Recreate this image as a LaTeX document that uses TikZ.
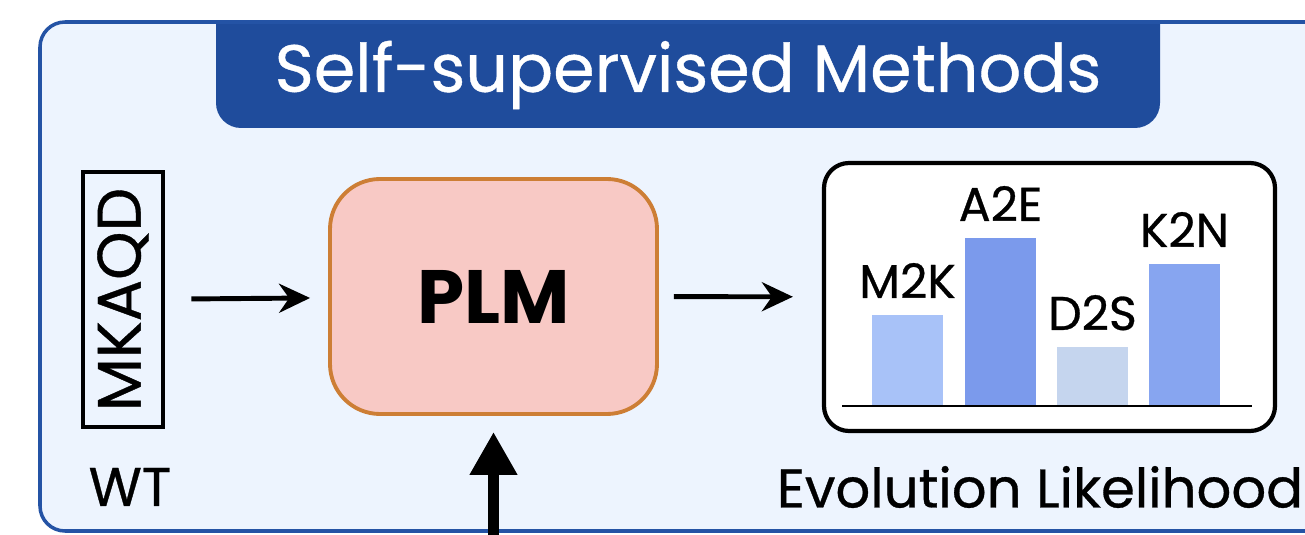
\documentclass[tikz,border=0pt]{standalone}
\usepackage{fontspec}
\setmainfont{Poppins}[UprightFeatures={FakeBold=0.6}]
\usetikzlibrary{arrows.meta,positioning}
\definecolor{panelline}{HTML}{2453A5}
\definecolor{panelfill}{HTML}{EDF4FE}
\definecolor{bannerblue}{HTML}{1F4C9C}
\definecolor{plmfill}{HTML}{F8C9C5}
\definecolor{plmline}{HTML}{CD7E35}
\definecolor{barA}{HTML}{A8C2F8}
\definecolor{barB}{HTML}{7B9AEC}
\definecolor{barC}{HTML}{C5D5EE}
\definecolor{barD}{HTML}{87A5F0}

\begin{document}
\begin{tikzpicture}[thick,
  seqbox/.style={draw, line width=2.8pt, rotate=90, minimum width=5.1cm, minimum height=1.6cm, inner sep=0pt, font=\fontsize{35}{36}\selectfont},
  plmbox/.style={draw=plmline, fill=plmfill, line width=2.2pt, rounded corners=1cm, minimum width=6.54cm, minimum height=4.7cm, font=\fontsize{43}{44}\selectfont\bfseries},
  chartbox/.style={draw, fill=white, line width=2.4pt, rounded corners=0.5cm, minimum width=9.02cm, minimum height=5.36cm},
  flow/.style={-{Stealth[length=0.62cm, width=0.58cm]}, line width=2.8pt},
  bigflow/.style={-{Triangle[length=0.86cm, width=0.9cm]}, line width=6pt},
  barlabel/.style={anchor=base, font=\fontsize{27}{28}\selectfont},
  caption/.style={font=\fontsize{31}{32}\selectfont}]
  \useasboundingbox (0,0) rectangle (26.1,10.68);
  \clip (0,0) rectangle (26.1,10.68);
  % Panel and banner
  \fill[panelfill, rounded corners=0.5cm] (0.8,0.06) rectangle (27,10.24);
  \fill[bannerblue, rounded corners=0.5cm] (4.32,10.26) -- (4.32,8.12) -- (23.2,8.12) -- (23.2,10.26);
  \draw[panelline, line width=2pt, rounded corners=0.5cm] (0.8,0.06) rectangle (27,10.24);
  \node[text=white, font=\fontsize{38}{40}\selectfont] (title) at (13.76,9.18) {Self-supervised Methods};
  % Input, model, output
  \node[seqbox] (seq) at (2.46,4.69) {MKAQD};
  \node[caption] (wt) at (2.6,0.94) {WT};
  \node[plmbox] (plm) at (9.87,4.75) {PLM};
  \node[chartbox] (chart) at (20.99,4.74) {};
  \node[caption] (elik) at (20.8,0.94) {Evolution Likelihood};
  \draw[flow, shorten <=0.52cm, shorten >=0.36cm] (seq) -- (plm);
  \draw[flow, shorten <=0.3cm, shorten >=0.58cm] (plm) -- (chart);
  \coordinate (feed) at ([yshift=-3cm]plm.south);
  \draw[bigflow, shorten >=0.32cm] (feed) -- (plm.south);
  % Bars
  \foreach \x/\h/\c/\lab in {17.44/4.38/barA/M2K, 19.3/5.92/barB/A2E, 21.14/3.74/barC/D2S, 22.98/5.4/barD/K2N} {
    \fill[\c] (\x,2.56) rectangle (\x+1.42,\h);
    \node[barlabel] (lbl\lab) at (\x+0.71,\h+0.34) {\lab};
  }
  \draw[line width=1.4pt] (16.84,2.56) -- (25.04,2.56);
\end{tikzpicture}
\end{document}
